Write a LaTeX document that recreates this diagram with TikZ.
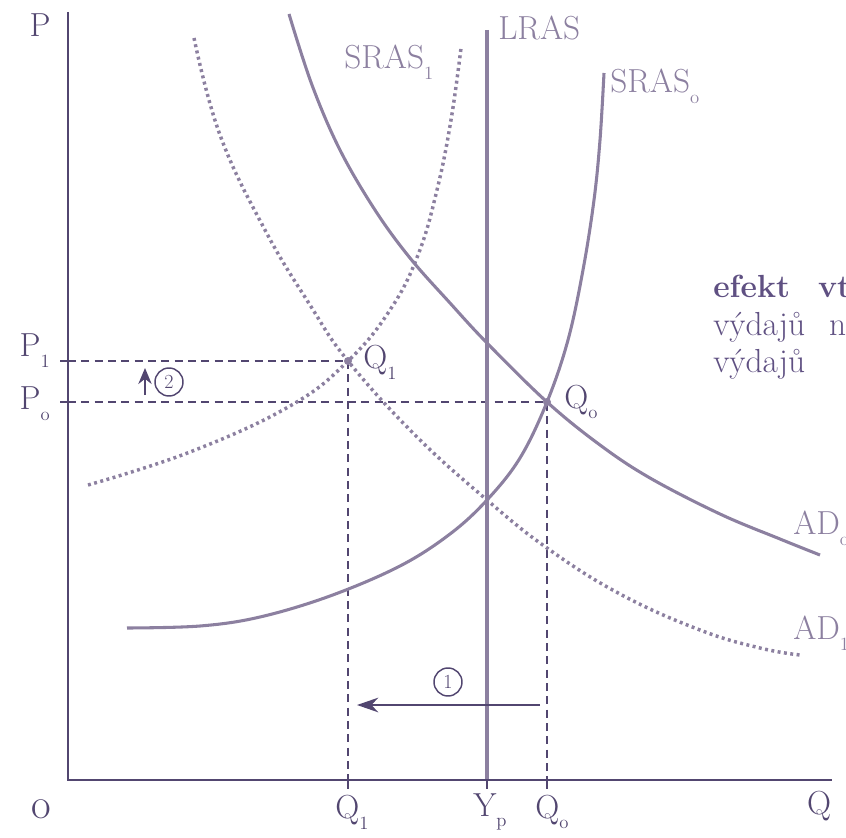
\documentclass[tikz,border=0pt]{standalone}
\usetikzlibrary{arrows.meta}
\definecolor{axiscol}{RGB}{82,70,112}
\definecolor{curvecol}{RGB}{140,128,160}
\definecolor{textcol}{RGB}{95,80,130}
\newcommand\sbs[1]{\raisebox{-0.75ex}{\fontsize{14}{14}\selectfont #1}}
\tikzset{
  axisline/.style={draw=axiscol, line width=2.2pt},
  solidcurve/.style={draw=curvecol, line width=2.3pt},
  dotcurve/.style={draw=curvecol, line width=2.6pt, dash pattern=on 2.2pt off 2.6pt},
  guide/.style={draw=axiscol, line width=1.4pt, dash pattern=on 6pt off 4pt},
  ticky/.style={draw=axiscol, line width=1.6pt},
  axlabel/.style={text=axiscol, font=\fontsize{25}{30}\selectfont, inner sep=0pt},
  curvelabel/.style={text=curvecol, font=\fontsize{25}{30}\selectfont, inner sep=0pt, anchor=west},
  sidetext/.style={text=textcol, font=\fontsize{25}{30}\selectfont, inner sep=0pt, anchor=base west},
  eqpt/.style={circle, fill=curvecol, inner sep=0pt, minimum size=6pt},
  numcirc/.style={circle, draw=axiscol, line width=1.1pt, text=axiscol, font=\fontsize{15}{15}\selectfont, inner sep=0pt, minimum size=21pt},
  shiftarrow/.style={draw=axiscol, line width=1.6pt, -{Stealth[length=16pt,width=11pt]}}
}
\begin{document}
\begin{tikzpicture}[x=0.75pt,y=-0.75pt]
\useasboundingbox (0,0) rectangle (846,838);
\clip (0,0) rectangle (846,838);
% reference coordinates
\coordinate (origin) at (68,780);
\coordinate (ytop) at (68,12);
\coordinate (xend) at (832,780);
\coordinate (Q1pt) at (348,361);
\coordinate (Q0pt) at (547,402);
\coordinate (P1ax) at (68,361);
\coordinate (P0ax) at (68,402);
\coordinate (Q1ax) at (348,780);
\coordinate (Q0ax) at (547,780);
\coordinate (Ypax) at (487,780);
\coordinate (lrastop) at (487,30);

% dashed guides
\draw[guide] (P1ax) -- (Q1pt) -- (Q1ax);
\draw[guide] (P0ax) -- (Q0pt) -- (Q0ax);

% LRAS
\draw[solidcurve, line width=2.6pt] (lrastop) -- (Ypax);

% SRAS0
\draw[solidcurve] plot[smooth, tension=0.6] coordinates {(127,628) (200,626) (260,617) (330,596) (400,566) (450,534) (487,500) (520,458) (547,402) (568,340) (583,270) (594,200) (600,140) (604,73)};
% SRAS1
\draw[dotcurve] plot[smooth, tension=0.7] coordinates {(88,485) (190,452) (290,406) (348,361) (390,310) (418,255) (437,190) (451,120) (461,48)};
% AD0
\draw[solidcurve] plot[smooth, tension=0.6] coordinates {(289,14) (312,85) (340,150) (375,210) (410,258) (450,303) (487,343) (547,402) (600,445) (650,478) (720,514) (780,539) (820,555)};
% AD1
\draw[dotcurve] plot[smooth, tension=0.7] coordinates {(194,38) (220,135) (265,230) (310,305) (348,361) (415,435) (487,500) (547,548) (620,594) (700,630) (760,648) (800,655)};

% axes
\draw[axisline] (ytop) -- (origin) -- (xend);
% ticks
\draw[ticky] (P1ax) -- ++(-8,0);
\draw[ticky] (P0ax) -- ++(-8,0);
\draw[ticky] (Q1ax) -- ++(0,9);
\draw[ticky] (Ypax) -- ++(0,9);
\draw[ticky] (Q0ax) -- ++(0,9);

% equilibrium points
\node[eqpt] (E1) at (Q1pt) {};
\node[eqpt] (E0) at (Q0pt) {};

% axis labels
\node[axlabel] (Plab) at (40,25) {P};
\node[axlabel, font=\fontsize{32}{32}\selectfont] (olab) at (41,809) {o};
\node[axlabel] (Qlab) at (819,806) {Q};
\node[axlabel, anchor=east] (P1lab) at (50,351) {P\sbs{1}};
\node[axlabel, anchor=east] (P0lab) at (50,404) {P\sbs{o}};
\node[axlabel] (Q1lab) at (352,812) {Q\sbs{1}};
\node[axlabel] (Yplab) at (490,812) {Y\sbs{p}};
\node[axlabel] (Q0lab) at (552,812) {Q\sbs{o}};
\node[axlabel, anchor=west] (Q1name) at (363,362) {Q\sbs{1}};
\node[axlabel, anchor=west] (Q0name) at (564,402) {Q\sbs{o}};

% curve labels
\node[curvelabel] (lraslab) at (498,28) {LRAS};
\node[curvelabel] (sras1lab) at (344,62) {SRAS\sbs{1}};
\node[curvelabel] (sras0lab) at (610,86) {SRAS\sbs{o}};
\node[curvelabel] (ad0lab) at (793,528) {AD\sbs{o}};
\node[curvelabel] (ad1lab) at (793,633) {AD\sbs{1}};

% shift arrows
\coordinate (a1s) at (540,705);
\coordinate (a1e) at (357,705);
\draw[shiftarrow] (a1s) -- (a1e);
\node[numcirc] (c1) at (448,682) {1};
\coordinate (a2s) at (145,395);
\coordinate (a2e) at (145,368);
\draw[shiftarrow, -{Stealth[length=12pt,width=10pt]}] (a2s) -- (a2e);
\node[numcirc] (c2) at (169,382) {2};

% side text
\node[sidetext, font=\bfseries\fontsize{24}{28}\selectfont] (t1) at (713,297) {efekt\hspace{21pt}vt};
\node[sidetext] (t2) at (713,335) {výdajů\hspace{18pt}n};
\node[sidetext] (t3) at (713,372) {výdajů};
\end{tikzpicture}
\end{document}
